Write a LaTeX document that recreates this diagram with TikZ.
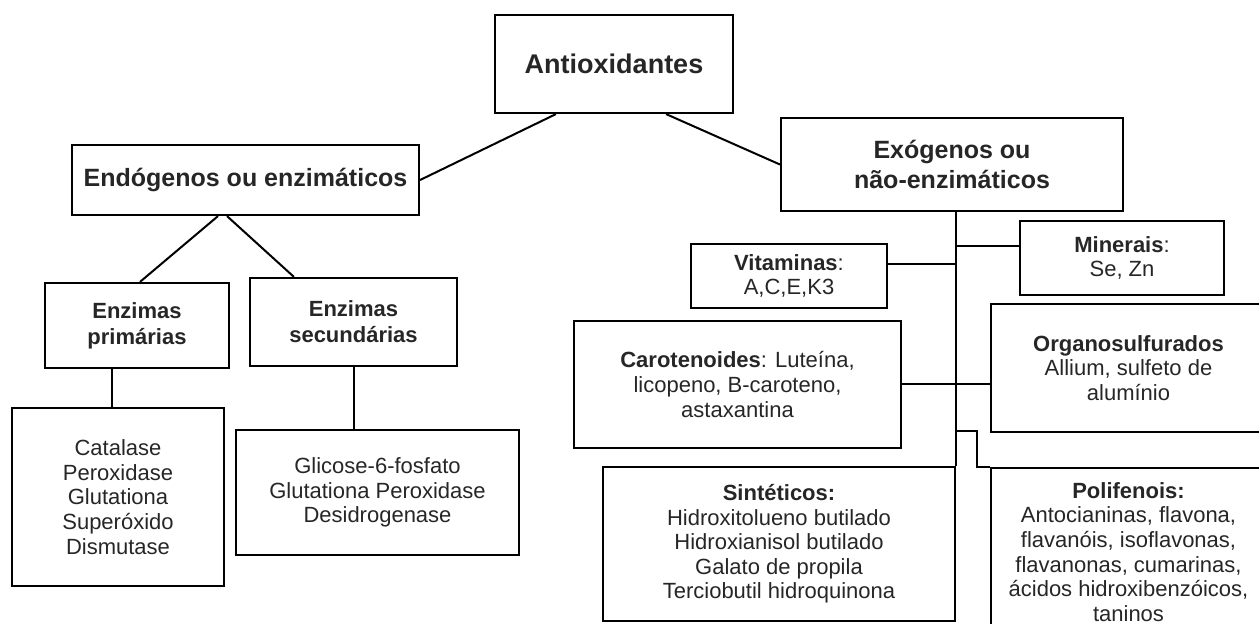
\documentclass[tikz,border=0pt]{standalone}
\usepackage{fontspec}
\setmainfont{Liberation Sans}
\usetikzlibrary{calc}

\begin{document}
\begin{tikzpicture}[x=0.5pt,y=-0.5pt,line width=1pt,
	box/.style = {draw, line width=1.1pt, inner sep=0pt, align=center, text=black!85},
	head/.style = {box, font=\fontsize{12.5}{15}\selectfont\bfseries},
	sub/.style = {box, font=\fontsize{11}{13}\selectfont\bfseries},
	small/.style = {box, font=\fontsize{11}{12.3}\selectfont}]
	\clip (0,0) rectangle (1259,624);
	% top levels
	\node[head,minimum width=119pt,minimum height=49pt,font=\fontsize{13.5}{16}\selectfont\bfseries] at (614,64) (anti) {Antioxidantes};
	\node[head,minimum width=173.5pt,minimum height=35pt] at (245.5,180) (endo) {Endógenos ou enzimáticos};
	\node[head,minimum width=171pt,minimum height=46.5pt] at (952,164.5) (exo) {Exógenos ou\\não-enzimáticos};
	% enzimaticos
	\node[sub,minimum width=92pt,minimum height=42.5pt] at (137,325.5) (prim) {Enzimas\\primárias};
	\node[sub,minimum width=103.5pt,minimum height=44pt] at (353.5,322) (sec) {Enzimas\\secundárias};
	\node[small,minimum width=106pt,minimum height=89pt] at (118,497) (cat) {Catalase\\Peroxidase\\Glutationa\\Superóxido\\Dismutase};
	\node[small,minimum width=141.5pt,minimum height=62.5pt] at (377.5,492.5) (gli) {Glicose-6-fosfato\\Glutationa Peroxidase\\Desidrogenase};
	% nao-enzimaticos
	\node[small,minimum width=98pt,minimum height=32pt] at (789,276) (vit) {\textbf{Vitaminas}:\\A,C,E,K3};
	\node[small,minimum width=102pt,minimum height=37pt] at (1122,258) (min) {\textbf{Minerais}:\\Se, Zn};
	\node[small,minimum width=163.5pt,minimum height=63.5pt] at (737.5,384.5) (car) {\textbf{Carotenoides}: Luteína,\\licopeno, B-caroteno,\\astaxantina};
	\node[small,minimum width=137.5pt,minimum height=64pt] at (1128.5,368) (org) {\textbf{Organosulfurados}\\Allium, sulfeto de\\alumínio};
	\node[small,minimum width=176pt,minimum height=77pt] at (779,544) (sin) {\textbf{Sintéticos:}\\Hidroxitolueno butilado\\Hidroxianisol butilado\\Galato de propila\\Terciobutil hidroquinona};
	\node[small,minimum width=137.5pt,minimum height=84pt] at (1128.5,552) (pol) {\textbf{Polifenois:}\\Antocianinas, flavona,\\flavanóis, isoflavonas,\\flavanonas, cumarinas,\\ácidos hidroxibenzóicos,\\taninos};
	\coordinate (elb) at (977,431);
	% connectors
	\draw ([xshift=31pt]anti.south west) -- (endo.east);
	\draw ([xshift=-34pt]anti.south east) -- (exo.west);
	\draw ([xshift=-13.75pt]endo.south) -- ([xshift=1.5pt]prim.north);
	\draw ([xshift=-9.25pt]endo.south) -- ([xshift=22.5pt]sec.north west);
	\draw ([xshift=-12.5pt]prim.south) -- ([xshift=-12.5pt]prim.south |- cat.north);
	\draw (sec.south) -- (sec.south |- gli.north);
	\draw (sin.north east |- exo.south) -- (sin.north east);
	\draw ([yshift=6pt]vit.east) -- ([yshift=6pt]vit.east -| sin.north east);
	\draw ([yshift=6pt]min.west) -- ([yshift=6pt]min.west -| sin.north east);
	\draw (car.east) -- (car.east -| org.west);
	\draw (elb -| sin.north east) -- (elb) |- (pol.north west);
\end{tikzpicture}
\end{document}
